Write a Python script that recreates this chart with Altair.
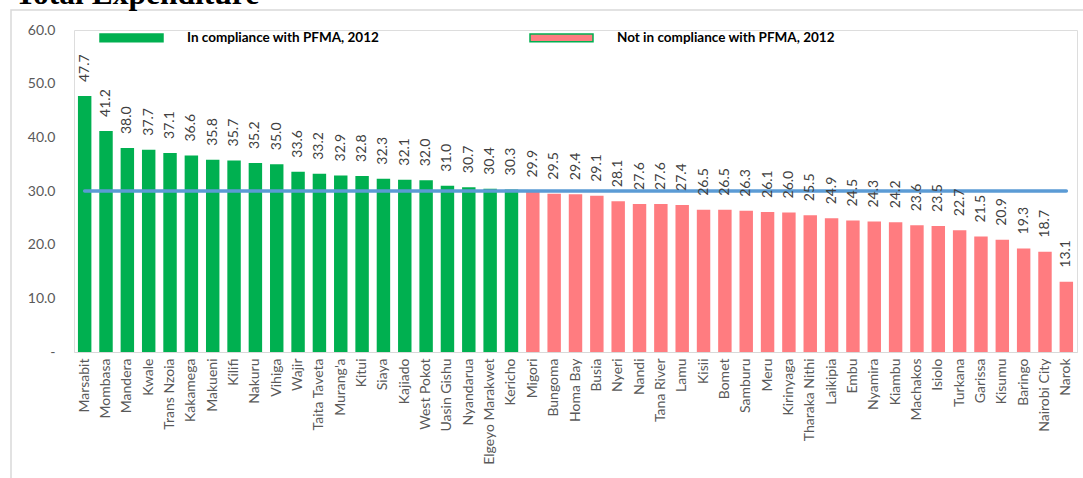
import altair as alt
import pandas as pd

# County share of total expenditure (%), sorted as published
counties = [
    "Marsabit", "Mombasa", "Mandera", "Kwale", "Trans Nzoia", "Kakamega", "Makueni",
    "Kilifi", "Nakuru", "Vihiga", "Wajir", "Taita Taveta", "Murang'a", "Kitui", "Siaya",
    "Kajiado", "West Pokot", "Uasin Gishu", "Nyandarua", "Elgeyo Marakwet", "Kericho",
    "Migori", "Bungoma", "Homa Bay", "Busia", "Nyeri", "Nandi", "Tana River", "Lamu",
    "Kisii", "Bomet", "Samburu", "Meru", "Kirinyaga", "Tharaka Nithi", "Laikipia", "Embu",
    "Nyamira", "Kiambu", "Machakos", "Isiolo", "Turkana", "Garissa", "Kisumu", "Baringo",
    "Nairobi City", "Narok",
]
shares = [
    47.7, 41.2, 38.0, 37.7, 37.1, 36.6, 35.8, 35.7, 35.2, 35.0, 33.6, 33.2, 32.9, 32.8,
    32.3, 32.1, 32.0, 31.0, 30.7, 30.4, 30.3,
    29.9, 29.5, 29.4, 29.1, 28.1, 27.6, 27.6, 27.4, 26.5, 26.5, 26.3, 26.1, 26.0, 25.5,
    24.9, 24.5, 24.3, 24.2, 23.6, 23.5, 22.7, 21.5, 20.9, 19.3, 18.7, 13.1,
]
threshold = 30.0
y_ticks = [0, 10, 20, 30, 40, 50, 60]
status_labels = ["In compliance with PFMA, 2012", "Not in compliance with PFMA, 2012"]

GREEN = "#00B050"
PINK = "#FF7C80"
BLUE = "#5B9BD5"
GREY = "#595959"
FONT = "Lato"

df = pd.DataFrame({"county": counties, "share": shares})
df["limit"] = threshold
df["status"] = [status_labels[0] if v >= threshold else status_labels[1] for v in shares]

x_enc = alt.X(
    "county:N",
    sort=counties,
    scale=alt.Scale(paddingInner=0.37, paddingOuter=0.185),
    axis=alt.Axis(
        title=None, labelAngle=270, labelAlign="right", labelBaseline="middle",
        labelFont=FONT, labelFontSize=14, labelColor=GREY, labelPadding=6,
        ticks=False, domainColor="#D9D9D9", domainWidth=1.2, labelOverlap=False,
    ),
)
y_scale = alt.Scale(domain=[0, 60], nice=False)

base = alt.Chart(df)

bars = base.mark_bar().encode(
    x=x_enc,
    y=alt.Y(
        "share:Q", scale=y_scale,
        axis=alt.Axis(
            title=None, values=y_ticks, grid=False, domain=False, ticks=False,
            labelExpr="datum.value == 0 ? '-' : format(datum.value, '.1f')",
            labelFont=FONT, labelFontSize=14, labelColor=GREY, labelPadding=19,
        ),
    ),
    color=alt.Color(
        "status:N",
        scale=alt.Scale(domain=status_labels, range=[GREEN, PINK]),
        legend=alt.Legend(
            title=None, orient="none", legendX=25, legendY=-25,
            direction="horizontal", columns=2, columnPadding=147,
            symbolType="M-1,-0.12H1V0.12H-1Z", symbolSize=3969,
            symbolStrokeColor=GREEN, symbolStrokeWidth=1.5, symbolOpacity=1,
            labelFont=FONT, labelFontWeight="bold", labelFontSize=13.5,
            labelColor="#000000", labelOffset=23, labelLimit=400,
        ),
    ),
)

limit_line = base.mark_line(color=BLUE, strokeWidth=3.5, strokeCap="round").encode(
    x=alt.X("county:N", sort=counties),
    y=alt.Y("limit:Q", scale=y_scale),
)

values = base.mark_text(
    angle=270, align="left", baseline="middle", dx=14,
    font=FONT, fontSize=14, color="#404040",
).encode(
    x=alt.X("county:N", sort=counties),
    y=alt.Y("share:Q", scale=y_scale),
    text=alt.Text("share:Q", format=".1f"),
)

frame_df = pd.DataFrame({"k": [0]})
frame = alt.Chart(frame_df).mark_rect(
    fill=None, stroke="#D9D9D9", strokeWidth=1.5
).encode(
    x=alt.value(-63), x2=alt.value(1030), y=alt.value(-20), y2=alt.value(480)
)

title = alt.Chart(pd.DataFrame({"t": ["Total Expenditure"]})).mark_text(
    align="left", baseline="alphabetic", font="Liberation Serif",
    fontWeight="bold", fontSize=31.5, color="#000000",
).encode(x=alt.value(-59), y=alt.value(-26), text="t:N")

chart = (
    alt.layer(frame, title, bars, limit_line, values)
    .properties(
        width=1003, height=322,
        autosize=alt.AutoSizeParams(type="none"),
        padding={"left": 74, "top": 30, "right": 6, "bottom": 126},
    )
    .configure_view(stroke=None)
    .configure(background="white")
)

chart.save("out.html", embed_options={"renderer": "svg", "actions": False})
